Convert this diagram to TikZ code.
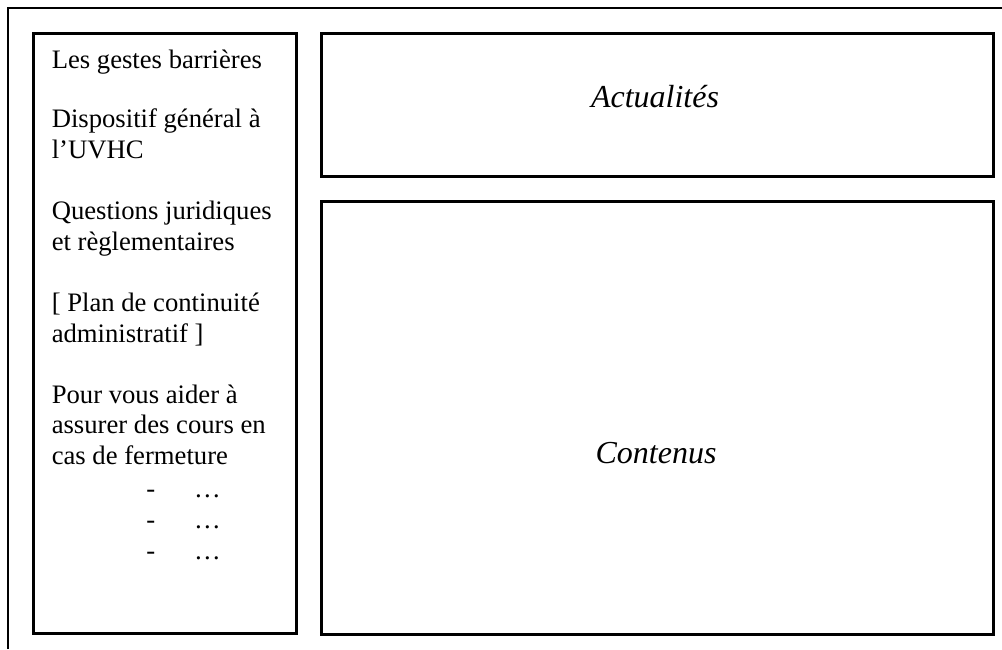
\documentclass[tikz,border=0pt]{standalone}
\usepackage{fontspec}
\setmainfont{Liberation Serif}

\tikzset{
  frame/.style={line width=1.9pt},
  panel/.style={draw, line width=1.9pt, anchor=north west, inner sep=0pt},
  menutext/.style={anchor=base west, align=left, inner sep=0pt, font=\fontsize{20}{22.8}\selectfont},
  paneltitle/.style={anchor=base, inner sep=0pt, font=\fontsize{24}{27}\selectfont\itshape}
}

\begin{document}
\begin{tikzpicture}[x=0.75pt,y=0.75pt,yscale=-1,xscale=1]
\useasboundingbox (0,0) rectangle (1002,649);

%Straight Lines: page frame
\draw [frame] (8,649) -- (8,8) -- (1002,8) ;

%Shape: Rectangle (menu)
\node [panel, minimum width=197.25pt, minimum height=450pt] (menu) at (32,32) {};
%Shape: Rectangle (actualites)
\node [panel, minimum width=504pt, minimum height=107.25pt] (actubox) at (320,32) {};
%Shape: Rectangle (contenus)
\node [panel, minimum width=504pt, minimum height=324.75pt] (contbox) at (320,200) {};

% Text Node (anchored on the baseline of the last line)
\node [menutext] (gestes) at (51.5,69) {Les gestes barrières};
% Text Node
\node [menutext] (dispositif) at (51.5,158) {Dispositif général à\\l’UVHC};
% Text Node
\node [menutext] (questions) at (51.5,250) {Questions juridiques\\et règlementaires};
% Text Node
\node [menutext] (plan) at (51.5,342) {[ Plan de continuité\\administratif ]};
% Text Node
\node [menutext] (aider) at (51.5,464) {Pour vous aider à\\assurer des cours en\\cas de fermeture};
% Text Node
\node [menutext] (itemA) at (146,497) {-\hspace*{29.3pt}…};
\node [menutext] (itemB) at (146,528) {-\hspace*{29.3pt}…};
\node [menutext] (itemC) at (146,559) {-\hspace*{29.3pt}…};

% Text Node
\node [paneltitle] (actu) at (655,108) {Actualités};
% Text Node
\node [paneltitle] (contenus) at (656,463) {Contenus};

\end{tikzpicture}
\end{document}
